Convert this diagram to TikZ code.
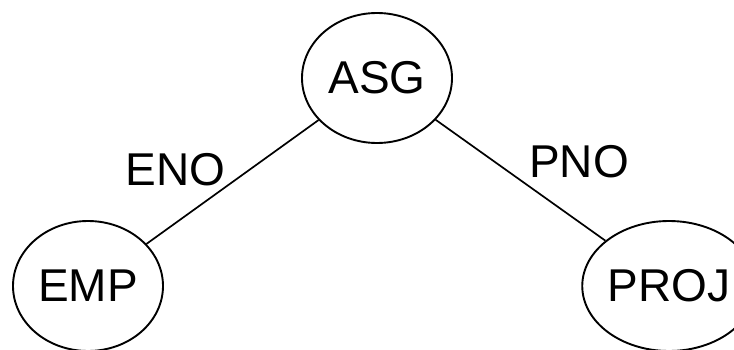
\documentclass[tikz,border=0pt]{standalone}
\usepackage{fontspec}
\setmainfont{Liberation Sans}
\usepackage{tikz}
\usetikzlibrary{shapes.geometric, positioning}

\begin{document}
\begin{tikzpicture}[x=1pt, y=1pt,
    relation/.style={ellipse, draw, line width=1.9pt, minimum width=150pt, minimum height=130pt, inner sep=0pt, font=\fontsize{46}{55}\selectfont},
    keylabel/.style={inner sep=0pt, font=\fontsize{46}{55}\selectfont},
    link/.style={line width=1.7pt}]
    \useasboundingbox (0,0) rectangle (734,349);

    % Relations
    \node[relation] (asg) at (377,271) {ASG};
    \node[relation] (emp) at (88,63) {EMP};
    \node[relation] (proj) at (669,63) {PROJ};

    % Foreign keys
    \draw[link] (asg) -- (emp);
    \draw[link] (asg) -- (proj);
    \node[keylabel] (eno) at (175.5,179.5) {ENO};
    \node[keylabel] (pno) at (579,187) {PNO};
\end{tikzpicture}
\end{document}
